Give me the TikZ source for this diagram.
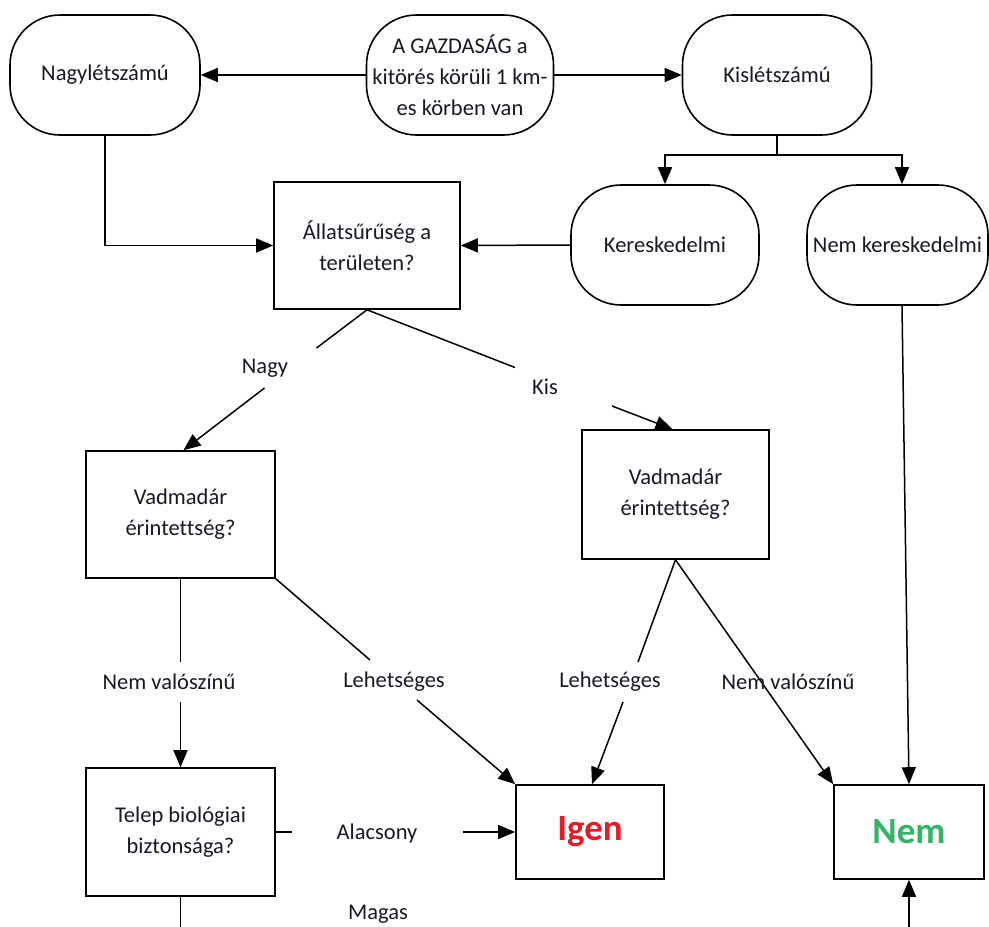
\documentclass[tikz,border=0pt]{standalone}
\usepackage{fontspec}
\setmainfont[Ligatures=NoCommon]{Carlito}
\usetikzlibrary{arrows.meta,positioning}
\definecolor{igenred}{RGB}{228,28,40}
\definecolor{nemgreen}{RGB}{52,180,102}
\definecolor{txt}{RGB}{25,25,35}
\tikzset{
  base/.style={font=\fontsize{22.5}{31}\selectfont, text=txt},
  rbox/.style={base, draw, line width=1.6pt, rounded corners=50pt, minimum height=120pt, align=center, inner sep=0pt},
  sbox/.style={base, draw, line width=1.6pt, align=center, inner sep=0pt},
  lbl/.style={base, inner sep=0pt},
  conn/.style={line width=1.5pt},
  arr/.style={conn, -{Triangle[length=17pt,width=14pt]}},
}
\begin{document}
\begin{tikzpicture}[x=1pt,y=-1pt]
\clip (0,0) rectangle (989,927);
\fill[white] (0,0) rectangle (989,927);
% rounded nodes
\node[rbox, minimum width=190pt] (nagy) at (105,75) {Nagylétszámú};
\node[rbox, minimum width=187pt] (gaz) at (460,75) {A GAZDASÁG a\\kitörés körüli 1 km-\\es körben van};
\node[rbox, minimum width=189pt] (kis) at (777,75) {Kislétszámú};
\node[rbox, minimum width=188pt] (ker) at (665,245) {Kereskedelmi};
\node[rbox, minimum width=181pt] (nk) at (897.5,245) {Nem kereskedelmi};
% square nodes
\node[sbox, minimum width=186pt, minimum height=127pt] (all) at (367,245.5) {Állatsűrűség a\\területen?};
\node[sbox, minimum width=189pt, minimum height=127pt] (vl) at (180.5,514.5) {Vadmadár\\érintettség?};
\node[sbox, minimum width=187pt, minimum height=129pt] (vr) at (675.5,494.5) {Vadmadár\\érintettség?};
\node[sbox, minimum width=189pt, minimum height=128pt] (telep) at (180.5,832) {Telep biológiai\\biztonsága?};
\node[sbox, minimum width=148pt, minimum height=94pt, font=\fontsize{37}{40}\selectfont\bfseries, text=igenred] (igen) at (590,832) {Igen};
\node[sbox, minimum width=150pt, minimum height=94pt, font=\fontsize{37}{40}\selectfont\bfseries, text=nemgreen] (nem) at (909,832) {Nem};
% top connectors
\draw[arr] (gaz.west) -- (nagy.east);
\draw[arr] (gaz.east) -- (kis.west);
\coordinate (fork) at (777,155);
\draw[conn] (kis.south) -- (fork);
\draw[arr] (fork) -| (ker.north);
\draw[arr] (fork) -| ([xshift=4.5pt]nk.north);
\draw[arr] (nagy.south) |- (all.west);
\draw[arr] (ker.west) -- (all.east);
% Nagy
\coordinate (nA) at (316.5,348);
\coordinate (nB) at (264.5,388);
\draw[conn] (all.south) -- (nA);
\draw[arr] (nB) -- ([xshift=3pt]vl.north);
\node[lbl] (lnagy) at (265,368) {Nagy};
% Kis
\coordinate (kA) at (515,367.5);
\coordinate (kB) at (612,406);
\draw[conn] (all.south) -- (kA);
\draw[arr] (kB) -- ([xshift=-3pt]vr.north);
\node[lbl] (lkis) at (545,387) {Kis};
% left Vadmadar
\coordinate (vnA) at (180.5,662);
\coordinate (vnB) at (180.5,702);
\draw[conn] (vl.south) -- (vnA);
\draw[arr] (vnB) -- (telep.north);
\node[lbl] (lnv1) at (169,682) {Nem valószínű};
\coordinate (lA) at (370,660);
\coordinate (lB) at (417,700);
\draw[conn] (vl.south east) -- (lA);
\draw[arr] (lB) -- (igen.north west);
\node[lbl] (lleh1) at (394,682) {Lehetséges};
% right Vadmadar
\coordinate (rA) at (638,662);
\coordinate (rB) at (623,702);
\draw[conn] (vr.south) -- (rA);
\draw[arr] (rB) -- ([xshift=2pt]igen.north);
\node[lbl] (lleh2) at (610,682) {Lehetséges};
\draw[arr] (vr.south) -- (nem.north west);
\node[lbl] (lnv2) at (788,682) {Nem valószínű};
% Nem kereskedelmi to Nem
\draw[arr] ([xshift=4.5pt]nk.south) -- (nem.north);
% Alacsony
\coordinate (aA) at (292,832);
\coordinate (aB) at (463,832);
\draw[conn] (telep.east) -- (aA);
\draw[arr] (aB) -- (igen.west);
\node[lbl] (lal) at (377,833) {Alacsony};
% Magas
\coordinate (mg) at (180.5,950);
\draw[arr] (telep.south) -- (mg) -| (nem.south);
\node[lbl] (lmag) at (378,914) {Magas};
\end{tikzpicture}
\end{document}
